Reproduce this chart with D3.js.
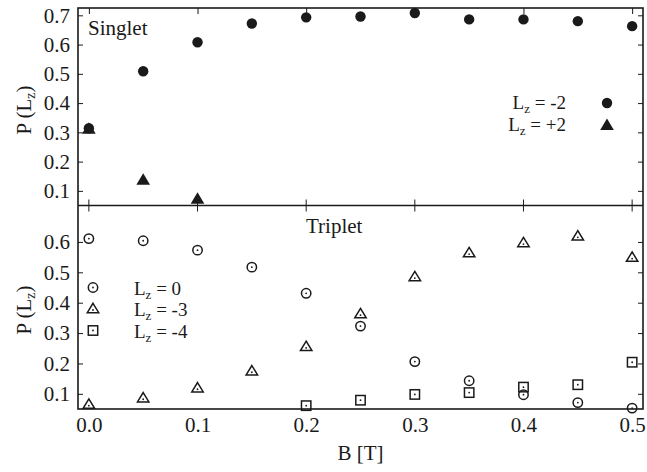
<!DOCTYPE html>
<html>
<head>
<meta charset="utf-8">
<script src="https://cdn.jsdelivr.net/npm/d3@7"></script>
<style>
  body { margin: 0; background: #fff; }
  svg, svg text { font-family: "Liberation Serif", "Times New Roman", Times, "DejaVu Serif", serif !important; }
</style>
</head>
<body>
<div id="chart"></div>
<script>
// field values
const bField = [0, 0.05, 0.1, 0.15, 0.2, 0.25, 0.3, 0.35, 0.4, 0.45, 0.5];

// singlet
const singletM2 = [0.314, 0.509, 0.608, 0.672, 0.693, 0.696, 0.708, 0.686, 0.686, 0.68, 0.663];
const singletP2 = [0.312, 0.138, 0.073, null, null, null, null, null, null, null, null];

// triplet
const tripletL0 = [0.611, 0.604, 0.573, 0.517, 0.431, 0.323, 0.206, 0.143, 0.097, 0.071, 0.053];
const tripletM3 = [0.066, 0.087, 0.120, 0.176, 0.256, 0.364, 0.486, 0.565, 0.598, 0.620, 0.550];
const tripletM4 = [null, null, null, null, 0.061, 0.079, 0.098, 0.104, 0.122, 0.130, 0.204];

const xTicks = [0, 0.1, 0.2, 0.3, 0.4, 0.5];
const yTicksTop = [0.1, 0.2, 0.3, 0.4, 0.5, 0.6, 0.7];
const yTicksBottom = [0.1, 0.2, 0.3, 0.4, 0.5, 0.6];

const W = 647, H = 472;
const pLeft = 78, pRight = 643, pTop = 8, pMid = 205.5, pBottom = 409;
const ink = "#1a1a1a";
const serif = "'Liberation Serif', 'Times New Roman', Times, 'DejaVu Serif', serif";

const svg = d3.select("#chart").append("svg")
    .attr("width", W).attr("height", H)
    .attr("font-family", serif);

const x = d3.scaleLinear().domain([-0.01, 0.51]).range([pLeft, pRight]);
const yTop = d3.scaleLinear().domain([0.05, 0.725]).range([pMid, pTop]);
const yBot = d3.scaleLinear().domain([0.05, 0.72]).range([pBottom, pMid]);

const pairs = vals => bField.map((b, i) => ({b: b, v: vals[i]})).filter(d => d.v != null);

// y axes, ticks pointing inward on both sides
function yAxes(y, ticks) {
    svg.append("g")
        .attr("transform", "translate(" + pLeft + ",0)")
        .call(d3.axisLeft(y).tickValues(ticks).tickSizeInner(-5).tickSizeOuter(0)
            .tickPadding(8).tickFormat(d3.format(".1f")))
        .attr("font-family", serif)
        .call(g => g.select(".domain").remove())
        .call(g => g.selectAll("line").attr("stroke", ink))
        .selectAll("text").style("font-size", "21px").attr("fill", ink);
    svg.append("g")
        .attr("transform", "translate(" + pRight + ",0)")
        .call(d3.axisRight(y).tickValues(ticks).tickSizeInner(-5).tickSizeOuter(0).tickFormat(""))
        .call(g => g.select(".domain").remove())
        .call(g => g.selectAll("line").attr("stroke", ink));
}
yAxes(yTop, yTicksTop);
yAxes(yBot, yTicksBottom);

// x ticks: top edge down, middle line both ways
svg.append("g")
    .attr("transform", "translate(0," + pTop + ")")
    .call(d3.axisTop(x).tickValues(xTicks).tickSizeInner(-6).tickSizeOuter(0).tickFormat(""))
    .call(g => g.select(".domain").remove())
    .call(g => g.selectAll("line").attr("stroke", ink));
svg.append("g")
    .selectAll("line").data(xTicks).enter().append("line")
    .attr("x1", d => x(d)).attr("x2", d => x(d))
    .attr("y1", pMid - 6).attr("y2", pMid + 6)
    .attr("stroke", ink);

// bottom axis labels
svg.append("g")
    .attr("transform", "translate(0," + pBottom + ")")
    .call(d3.axisBottom(x).tickValues(xTicks).tickSize(0).tickPadding(8).tickFormat(d3.format(".1f")))
    .attr("font-family", serif)
    .call(g => g.select(".domain").remove())
    .selectAll("text").style("font-size", "21px").attr("fill", ink);

// frame
svg.append("rect")
    .attr("x", pLeft).attr("y", pTop)
    .attr("width", pRight - pLeft).attr("height", pBottom - pTop)
    .attr("fill", "none").attr("stroke", ink).attr("stroke-width", 1.6);
svg.append("line")
    .attr("x1", pLeft).attr("x2", pRight).attr("y1", pMid).attr("y2", pMid)
    .attr("stroke", ink).attr("stroke-width", 1.6);

// axis titles
svg.append("text")
    .attr("x", (pLeft + pRight) / 2).attr("y", 460)
    .attr("text-anchor", "middle").style("font-size", "21px").attr("fill", ink)
    .text("B [T]");

function yTitle(cy) {
    const t = svg.append("text")
        .attr("transform", "translate(31," + cy + ") rotate(-90)")
        .attr("text-anchor", "middle").style("font-size", "21px").attr("fill", ink);
    t.append("tspan").text("P (L");
    t.append("tspan").attr("baseline-shift", "-25%").style("font-size", "14px").text("z");
    t.append("tspan").text(")");
}
yTitle(110);
yTitle(310);

// panel names
svg.append("text").attr("x", 88).attr("y", 35).style("font-size", "21px").attr("fill", ink).text("Singlet");
svg.append("text").attr("x", 306).attr("y", 233).style("font-size", "21px").attr("fill", ink).text("Triplet");

// marker drawers
function filledCircle(g, cx, cy) {
    g.append("circle").attr("cx", cx).attr("cy", cy).attr("r", 5.2).attr("fill", ink);
}
function filledTri(g, cx, cy) {
    const s = 6.5;
    g.append("path")
        .attr("d", `M${cx},${cy - s}L${cx + s * 1.05},${cy + s * 0.75}L${cx - s * 1.05},${cy + s * 0.75}Z`)
        .attr("fill", ink);
}
function dot(g, cx, cy) {
    g.append("circle").attr("cx", cx).attr("cy", cy).attr("r", 0.9).attr("fill", ink);
}
function openCircle(g, cx, cy) {
    g.append("circle").attr("cx", cx).attr("cy", cy).attr("r", 4.7)
        .attr("fill", "none").attr("stroke", ink).attr("stroke-width", 1.5);
    dot(g, cx, cy);
}
function openTri(g, cx, cy) {
    const s = 5.2;
    g.append("path")
        .attr("d", `M${cx},${cy - s}L${cx + s * 1.1},${cy + s * 0.8}L${cx - s * 1.1},${cy + s * 0.8}Z`)
        .attr("fill", "none").attr("stroke", ink).attr("stroke-width", 1.5);
    dot(g, cx, cy + 1.5);
}
function openSquare(g, cx, cy) {
    g.append("rect").attr("x", cx - 4.7).attr("y", cy - 4.7).attr("width", 9.4).attr("height", 9.4)
        .attr("fill", "none").attr("stroke", ink).attr("stroke-width", 1.5);
    dot(g, cx, cy);
}

function series(vals, y, draw) {
    const g = svg.append("g");
    pairs(vals).forEach(d => draw(g, x(d.b), y(d.v)));
}

series(singletM2, yTop, filledCircle);
series(singletP2, yTop, filledTri);
series(tripletL0, yBot, openCircle);
series(tripletM3, yBot, openTri);
series(tripletM4, yBot, openSquare);

// legends
function legendLabel(g, lx, ly, rest, anchor) {
    const t = g.append("text").attr("x", lx).attr("y", ly)
        .attr("text-anchor", anchor).style("font-size", "19px").attr("fill", ink);
    t.append("tspan").text("L");
    t.append("tspan").attr("baseline-shift", "-30%").style("font-size", "13px").text("z");
    t.append("tspan").text(rest);
}
const legTop = svg.append("g");
legendLabel(legTop, 566, 109, " = -2", "end");
legendLabel(legTop, 566, 131, " = +2", "end");
filledCircle(legTop, 607, 103);
filledTri(legTop, 607, 125);

const legBot = svg.append("g");
legendLabel(legBot, 134, 295, " = 0", "start");
legendLabel(legBot, 134, 316, " = -3", "start");
legendLabel(legBot, 134, 338, " = -4", "start");
openCircle(legBot, 93, 287.5);
openTri(legBot, 93, 308.5);
openSquare(legBot, 93, 330.5);
</script>
</body>
</html>
